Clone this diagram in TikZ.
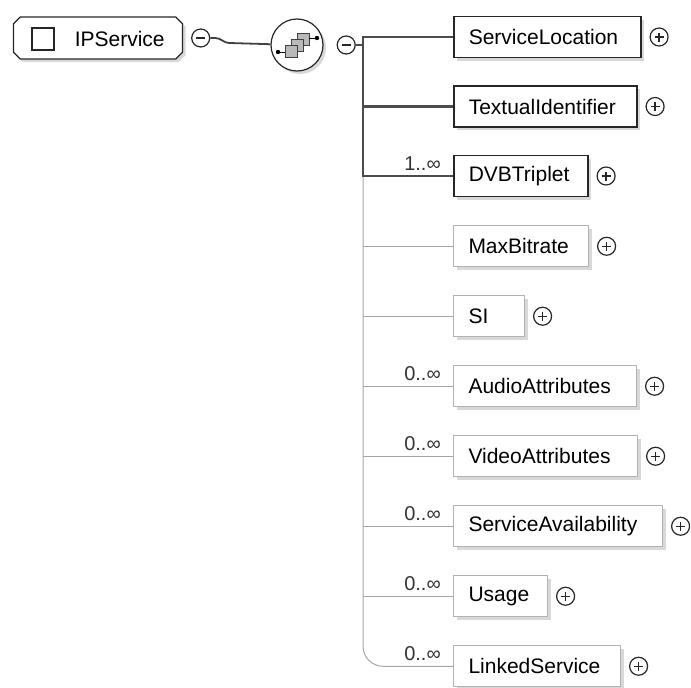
\documentclass[tikz,border=0pt]{standalone}
\usepackage{fontspec}
\setmainfont{Liberation Sans}
\usetikzlibrary{shapes.misc, shadows, positioning, calc}
\tikzstyle{topbox} = [draw=black!85, line width=1.2pt, chamfered rectangle, chamfered rectangle xsep=10pt, minimum width=169pt, minimum height=42pt, fill=white, drop shadow={shadow xshift=3pt, shadow yshift=-3pt, fill=black!30}]
\tikzstyle{reqbox} = [draw=black!85, line width=1.5pt, fill=white, minimum height=41pt, inner xsep=15pt, align=left, font=\fontsize{21}{24}\selectfont, drop shadow={shadow xshift=3pt, shadow yshift=-3pt, fill=black!30}]
\tikzstyle{optbox} = [reqbox, draw=black!30, line width=1pt]
\tikzstyle{seqbox} = [circle, draw=black!85, line width=1.2pt, fill=white, minimum size=52pt, drop shadow={shadow xshift=3pt, shadow yshift=-3pt, fill=black!30}]
\tikzstyle{plusbtn} = [circle, draw=black!85, line width=1.2pt, fill=white, minimum size=18pt, inner sep=0pt, path picture={\draw[line width=1.3pt] ([xshift=-4.5pt]path picture bounding box.center) -- ([xshift=4.5pt]path picture bounding box.center); \draw[line width=1.3pt] ([yshift=-4.5pt]path picture bounding box.center) -- ([yshift=4.5pt]path picture bounding box.center);}]
\tikzstyle{minusbtn} = [circle, draw=black!85, line width=1.2pt, fill=white, minimum size=18pt, inner sep=0pt, path picture={\draw[line width=1.3pt] ([xshift=-4.5pt]path picture bounding box.center) -- ([xshift=4.5pt]path picture bounding box.center);}]
\tikzstyle{mult} = [inner sep=0pt, font=\fontsize{20}{22}\selectfont, text=black!80]
\tikzstyle{thickln} = [line width=2.8pt, draw=black!70]
\tikzstyle{thinln} = [line width=1pt, draw=black!35]
\begin{document}
\begin{tikzpicture}[x=1pt, y=-1pt]
    \useasboundingbox (0,0) rectangle (691,688);
    % root element
    \node (ipsvc) [topbox] at (98,38) {};
    \node (ipicon) [draw=black!85, line width=1.2pt, minimum size=22pt, inner sep=0pt] at (43,39) {};
    \node (ipname) [right=20pt of ipicon, inner sep=0pt, font=\fontsize{21}{24}\selectfont] {IPService};
    \node (ipmin) [minusbtn, right=8pt of ipsvc] {};
    % sequence
    \node (seq) [seqbox] at (297,45) {};
    \node (seqmin) [minusbtn, right=13pt of seq] {};
    \begin{scope}[shift={(seq.center)}]
        \draw[fill=gray!55, draw=black!75, line width=0.9pt] (0,-12) rectangle (12,0);
        \draw[fill=gray!55, draw=black!75, line width=0.9pt] (-6,-6) rectangle (6,6);
        \draw[fill=gray!55, draw=black!75, line width=0.9pt] (-12,0) rectangle (0,12);
        \draw[line width=0.9pt] (-19,7) -- (-12,7);
        \draw[line width=0.9pt] (12,-7) -- (20,-7);
        \fill (-19,7) circle (2.2pt);
        \fill (20,-7) circle (2.2pt);
    \end{scope}
    % children
    \node (sloc) [reqbox, text width=157pt, anchor=west] at (453,37) {ServiceLocation};
    \node (tid) [reqbox, text width=153pt, below=27pt of sloc.south west, anchor=north west] {TextualIdentifier};
    \node (dvb) [reqbox, text width=104pt, below=27pt of tid.south west, anchor=north west] {DVBTriplet};
    \node (maxb) [optbox, text width=105pt, below=28pt of dvb.south west, anchor=north west] {MaxBitrate};
    \node (si) [optbox, text width=41pt, below=28pt of maxb.south west, anchor=north west] {SI};
    \node (audio) [optbox, text width=153pt, below=28pt of si.south west, anchor=north west] {AudioAttributes};
    \node (video) [optbox, text width=154pt, below=28pt of audio.south west, anchor=north west] {VideoAttributes};
    \node (avail) [optbox, text width=179pt, below=28pt of video.south west, anchor=north west] {ServiceAvailability};
    \node (usage) [optbox, text width=64pt, below=28pt of avail.south west, anchor=north west] {Usage};
    \node (lnk) [optbox, text width=137pt, below=28pt of usage.south west, anchor=north west] {LinkedService};
    % expand buttons
    \foreach \n in {sloc, tid, dvb, maxb, si, audio, video, avail, usage, lnk}
        \node (plus-\n) [plusbtn, right=8pt of \n] {};
    % occurrence labels
    \node (mdvb) [mult, above left=5pt and 12pt of dvb.west] {1..∞};
    \foreach \n in {audio, video, avail, usage, lnk}
        \node (m-\n) [mult, above left=5pt and 12pt of \n.west] {0..∞};
    % connectors
    \coordinate (bus) at (363,45);
    \draw[line width=1.8pt, draw=black!75] (ipmin.east) -- ++(5,0) to[out=0, in=180] ++(14,5) -- (seq);
    \draw[thinln, rounded corners=20pt] (dvb.west -| bus) |- (lnk.west);
    \foreach \n in {maxb, si, audio, video, avail, usage}
        \draw[thinln] (\n.west -| bus) -- (\n.west);
    \draw[thickln] (seqmin) -- (bus);
    \draw[thickln] (sloc.west) -- (sloc.west -| bus) -- (dvb.west -| bus) -- (dvb.west);
    \draw[thickln] (tid.west -| bus) -- (tid.west);
\end{tikzpicture}
\end{document}
